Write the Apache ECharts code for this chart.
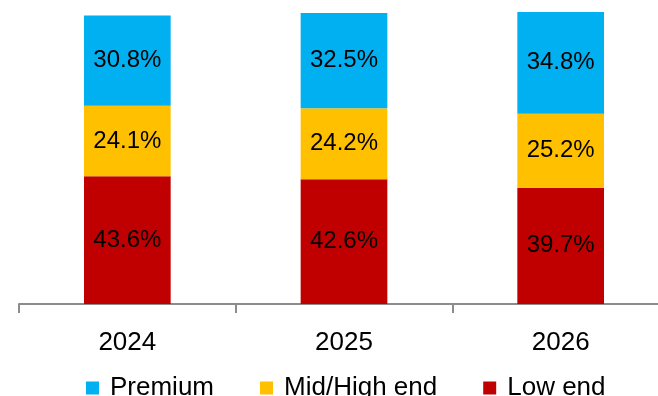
<!DOCTYPE html>
<html>
<head>
<meta charset="utf-8">
<script src="https://cdn.jsdelivr.net/npm/echarts@6/dist/echarts.min.js"></script>
<style>
  html, body { margin: 0; padding: 0; background: #ffffff; }
  #chart { width: 658px; height: 396px; }
</style>
</head>
<body>
<div id="chart"></div>
<script>
// Market share by price tier, stacked per year (percent)
const years = ['2024', '2025', '2026'];
const lowEnd = [43.6, 42.6, 39.7];
const midHighEnd = [24.1, 24.2, 25.2];
const premium = [30.8, 32.5, 34.8];

const seriesNames = ['Premium', 'Mid/High end', 'Low end'];
const seriesColors = { 'Premium': '#00B0F0', 'Mid/High end': '#FFC000', 'Low end': '#C00000' };

const FONT = '"Liberation Sans", Arial, sans-serif';

function segment(name, values) {
  return {
    name: name,
    type: 'bar',
    stack: 'share',
    barWidth: '40%',
    itemStyle: { color: seriesColors[name] },
    label: {
      show: true,
      position: 'inside',
      color: '#000000',
      fontFamily: FONT,
      fontSize: 24,
      formatter: p => p.value.toFixed(1) + '%'
    },
    data: values
  };
}

const chart = echarts.init(document.getElementById('chart'), null, { renderer: 'canvas' });
chart.setOption({
  animation: false,
  backgroundColor: '#ffffff',
  // the plot area runs past the right edge of the canvas
  grid: { left: 19, top: 11, width: 650, height: 293, containLabel: false, outerBoundsMode: 'none' },
  legend: {
    data: seriesNames,
    left: 81,
    top: 370,
    itemWidth: 13,
    itemHeight: 13,
    itemGap: 46,
    icon: 'rect',
    textStyle: { fontFamily: FONT, fontSize: 26, color: '#000000', padding: [0, 0, 0, 6] }
  },
  xAxis: {
    type: 'category',
    data: years,
    boundaryGap: true,
    axisLine: { lineStyle: { color: '#8c8c8c', width: 2 } },
    axisTick: { show: true, alignWithLabel: false, length: 9, lineStyle: { color: '#8c8c8c', width: 2 } },
    axisLabel: { fontFamily: FONT, fontSize: 26, color: '#000000', margin: 26 }
  },
  yAxis: {
    type: 'value',
    min: 0,
    max: 100,
    show: false,
    splitLine: { show: false }
  },
  series: [
    segment('Low end', lowEnd),
    segment('Mid/High end', midHighEnd),
    segment('Premium', premium)
  ]
});
</script>
</body>
</html>
